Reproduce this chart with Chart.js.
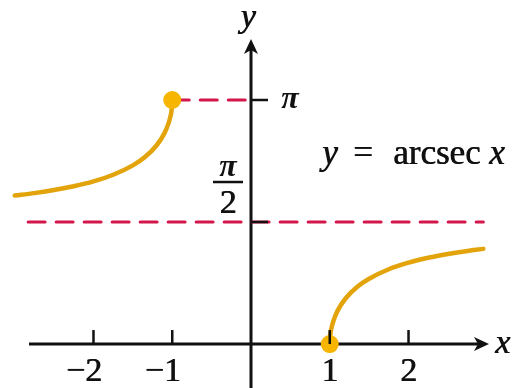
<!DOCTYPE html>
<html>
<head>
<meta charset="utf-8">
<script src="https://cdn.jsdelivr.net/npm/chart.js@4.4.1/dist/chart.umd.min.js"></script>
<style>
  html, body { margin: 0; padding: 0; background: #fff; }
  #wrap { width: 512px; height: 388px; position: relative; }
</style>
</head>
<body>
<div id="wrap"><canvas id="chart"></canvas></div>
<script>
const PI = Math.PI;

// left branch (x <= -1)
const leftX = [-3.0, -2.75, -2.5, -2.25, -2.0, -1.75, -1.5, -1.35, -1.2, -1.1, -1.05, -1.02, -1.005, -1.0];
const leftY = [1.911, 1.943, 1.982, 2.031, 2.094, 2.179, 2.300, 2.404, 2.556, 2.712, 2.834, 2.943, 3.042, 3.1416];

// right branch (x >= 1)
const rightX = [1.0, 1.005, 1.02, 1.05, 1.1, 1.2, 1.35, 1.5, 1.75, 2.0, 2.25, 2.5, 2.75, 2.95];
const rightY = [0, 0.100, 0.198, 0.308, 0.430, 0.586, 0.738, 0.841, 0.963, 1.047, 1.110, 1.159, 1.199, 1.225];

// filled end points
const dotX = [-1, 1];
const dotY = [PI, 0];

// dashed guide lines
const topGuideX = [-1, 0];
const topGuideY = [PI, PI];
const midGuideX = [-2.83, 2.95];
const midGuideY = [PI / 2, PI / 2];

// tick marks
const xTicks = [-2, -1, 1, 2];
const xTickLabels = ['−2', '−1', '1', '2'];
const yTicks = [PI / 2, PI];

const curveColor = '#E2A40A';
const dotColor = '#F7B500';
const guideColor = '#D3174A';
const SERIF = '"Liberation Serif", "Times New Roman", Times, serif';

function pts(xs, ys) {
  return xs.map((x, i) => ({ x: x, y: ys[i] }));
}

// text filled twice with a small shift, a bit heavier like the printed figure
function heavyText(ctx, s, x, y) {
  ctx.fillText(s, x, y);
  ctx.fillText(s, x + 0.7, y);
}

function arrowHead(ctx, tipX, tipY, dir) {
  ctx.save();
  ctx.translate(tipX, tipY);
  if (dir === 'right') ctx.rotate(Math.PI / 2);
  ctx.beginPath();
  ctx.moveTo(0, 0);
  ctx.lineTo(-7, 15);
  ctx.lineTo(0, 11);
  ctx.lineTo(7, 15);
  ctx.closePath();
  ctx.fillStyle = '#111';
  ctx.fill();
  ctx.restore();
}

const axesPlugin = {
  id: 'axesPlugin',
  beforeDatasetsDraw(chart) {
    const ctx = chart.ctx;
    const sx = chart.scales.x, sy = chart.scales.y;
    const ox = sx.getPixelForValue(0);
    const oy = sy.getPixelForValue(0);
    ctx.save();
    ctx.strokeStyle = '#111';
    ctx.lineWidth = 3;
    // x axis
    ctx.beginPath();
    ctx.moveTo(29, oy);
    ctx.lineTo(480, oy);
    ctx.stroke();
    // y axis
    ctx.beginPath();
    ctx.moveTo(ox, 388);
    ctx.lineTo(ox, 48);
    ctx.stroke();
    arrowHead(ctx, 489, oy, 'right');
    arrowHead(ctx, ox, 39, 'up');
    ctx.restore();
  },
  afterDatasetsDraw(chart) {
    const ctx = chart.ctx;
    const sx = chart.scales.x, sy = chart.scales.y;
    const ox = sx.getPixelForValue(0);
    const oy = sy.getPixelForValue(0);
    ctx.save();
    ctx.strokeStyle = '#111';
    ctx.lineWidth = 2.5;
    // x ticks (pointing up)
    xTicks.forEach(v => {
      const px = sx.getPixelForValue(v);
      ctx.beginPath();
      ctx.moveTo(px, oy);
      ctx.lineTo(px, oy - 14);
      ctx.stroke();
    });
    // y ticks (pointing right)
    yTicks.forEach(v => {
      const py = sy.getPixelForValue(v);
      ctx.beginPath();
      ctx.moveTo(ox, py);
      ctx.lineTo(ox + 17, py);
      ctx.stroke();
    });

    ctx.fillStyle = '#111';
    ctx.textBaseline = 'alphabetic';
    // x tick labels, digit centred under the tick
    ctx.font = '34px ' + SERIF;
    const digitW = ctx.measureText('2').width;
    ctx.textAlign = 'right';
    xTicks.forEach((v, i) => {
      const px = sx.getPixelForValue(v);
      heavyText(ctx, xTickLabels[i], px + digitW / 2, oy + 37);
    });

    // pi label
    const pPi = sy.getPixelForValue(PI);
    ctx.font = 'bold italic 32px ' + SERIF;
    ctx.textAlign = 'center';
    ctx.textBaseline = 'middle';
    ctx.fillText('π', 290, pPi);

    // pi/2 as a stacked fraction left of the axis
    const pHalf = sy.getPixelForValue(PI / 2);
    const fx = ox - 23;
    ctx.textBaseline = 'alphabetic';
    ctx.fillText('π', fx, pHalf - 46);
    ctx.lineWidth = 2.5;
    ctx.beginPath();
    ctx.moveTo(fx - 15, pHalf - 40);
    ctx.lineTo(fx + 15, pHalf - 40);
    ctx.stroke();
    ctx.font = '34px ' + SERIF;
    heavyText(ctx, '2', fx, pHalf - 9);

    // axis names
    ctx.font = 'italic 34px ' + SERIF;
    ctx.textAlign = 'center';
    heavyText(ctx, 'y', ox - 3, 27);
    ctx.textAlign = 'left';
    heavyText(ctx, 'x', 495, oy + 9);

    // equation
    ctx.font = 'italic 35px ' + SERIF;
    heavyText(ctx, 'y', 322, 164);
    ctx.font = '35px ' + SERIF;
    heavyText(ctx, '=', 353, 164);
    heavyText(ctx, 'arcsec', 393, 164);
    ctx.font = 'italic 35px ' + SERIF;
    heavyText(ctx, 'x', 489, 164);
    ctx.restore();
  }
};

new Chart(document.getElementById('chart'), {
  type: 'scatter',
  data: {
    datasets: [
      { label: 'endpoints', data: pts(dotX, dotY), showLine: false, pointRadius: 9,
        pointBackgroundColor: dotColor, pointBorderWidth: 0, order: 0 },
      { label: 'left branch', data: pts(leftX, leftY), showLine: true, borderColor: curveColor,
        borderWidth: 4.5, pointRadius: 0, cubicInterpolationMode: 'monotone', order: 1 },
      { label: 'right branch', data: pts(rightX, rightY), showLine: true, borderColor: curveColor,
        borderWidth: 4.5, pointRadius: 0, cubicInterpolationMode: 'monotone', order: 1 },
      { label: 'y = pi', data: pts(topGuideX, topGuideY), showLine: true, borderColor: guideColor,
        borderWidth: 3, borderDash: [17, 11], pointRadius: 0, order: 2 },
      { label: 'y = pi/2', data: pts(midGuideX, midGuideY), showLine: true, borderColor: guideColor,
        borderWidth: 3, borderDash: [17, 11], pointRadius: 0, order: 2 }
    ]
  },
  options: {
    responsive: true,
    maintainAspectRatio: false,
    animation: false,
    layout: { padding: 0, autoPadding: false },
    scales: {
      x: { type: 'linear', min: -3.187, max: 3.314, display: false },
      y: { type: 'linear', min: -0.566, max: 4.429, display: false }
    },
    plugins: { legend: { display: false }, tooltip: { enabled: false } },
    elements: { line: { borderCapStyle: 'round' } }
  },
  plugins: [axesPlugin]
});
</script>
</body>
</html>
